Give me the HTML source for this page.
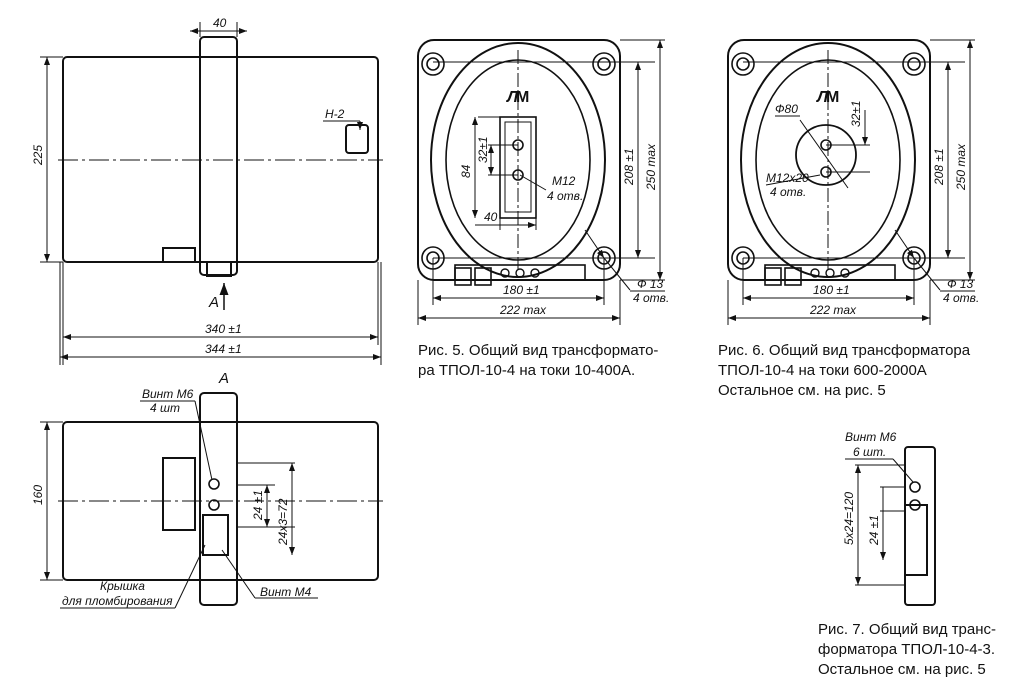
<!DOCTYPE html>
<html><head><meta charset="utf-8"><style>
body{margin:0;background:#fff;width:1027px;height:700px;overflow:hidden}
svg{display:block}
text{font-family:"Liberation Sans",sans-serif;fill:#111}
.i{font-style:italic;font-size:12px}
.c{font-size:15px}
</style></head><body>
<svg width="1027" height="700" viewBox="0 0 1027 700" fill="none" stroke="#111" stroke-width="1">
<defs><marker id="a" markerWidth="8" markerHeight="6" refX="8" refY="3" orient="auto-start-reverse"><path d="M0,0L8,3L0,6z" fill="#111" stroke="none"/></marker></defs>
<!-- top left view -->
<g stroke-width="2">
<rect x="63" y="57" width="315" height="205" rx="4"/>
<rect x="200" y="37" width="37" height="238" rx="4"/>
<rect x="163" y="248" width="32" height="14"/>
<rect x="346" y="125" width="22" height="28" rx="3"/>
<rect x="207" y="262" width="24" height="14"/>
</g>
<line x1="58" y1="160" x2="383" y2="160" stroke-dasharray="20,4,3,4"/>
<line x1="200" y1="37" x2="200" y2="22"/><line x1="237" y1="37" x2="237" y2="22"/>
<line x1="190" y1="31" x2="247" y2="31" marker-start="url(#a)" marker-end="url(#a)"/>
<text class="i" x="213" y="27" stroke="none">40</text>
<line x1="40" y1="57" x2="63" y2="57"/><line x1="40" y1="262" x2="63" y2="262"/>
<line x1="47" y1="57" x2="47" y2="262" marker-start="url(#a)" marker-end="url(#a)"/>
<text class="i" x="0" y="0" stroke="none" transform="translate(42,165) rotate(-90)">225</text>
<line x1="63" y1="262" x2="63" y2="365"/><line x1="378" y1="262" x2="378" y2="345"/><line x1="60" y1="262" x2="60" y2="365"/><line x1="381" y1="262" x2="381" y2="365"/>
<line x1="63" y1="337" x2="378" y2="337" marker-start="url(#a)" marker-end="url(#a)"/>
<text class="i" x="205" y="333" stroke="none">340 ±1</text>
<line x1="60" y1="357" x2="381" y2="357" marker-start="url(#a)" marker-end="url(#a)"/>
<text class="i" x="205" y="353" stroke="none">344 ±1</text>
<line x1="224" y1="310" x2="224" y2="283" marker-end="url(#a)" stroke-width="1.5"/>
<text class="c" x="209" y="307" font-style="italic" stroke="none">A</text>
<text class="i" x="325" y="118" stroke="none">H-2</text>
<line x1="323" y1="121" x2="360" y2="121"/><line x1="360" y1="121" x2="360" y2="130" marker-end="url(#a)"/>
<!-- bottom left -->
<g stroke-width="2">
<rect x="63" y="422" width="315" height="158" rx="4"/>
<rect x="200" y="393" width="37" height="212" rx="4"/>
<rect x="163" y="458" width="32" height="72"/>
<rect x="203" y="515" width="25" height="40"/>
</g>
<line x1="58" y1="501" x2="383" y2="501" stroke-dasharray="20,4,3,4"/>
<circle cx="214" cy="484" r="5" stroke-width="1.6"/><circle cx="214" cy="505" r="5" stroke-width="1.6"/>
<line x1="40" y1="422" x2="63" y2="422"/><line x1="40" y1="580" x2="63" y2="580"/>
<line x1="47" y1="422" x2="47" y2="580" marker-start="url(#a)" marker-end="url(#a)"/>
<text class="i" transform="translate(42,505) rotate(-90)" stroke="none">160</text>
<text class="c" x="219" y="383" font-style="italic" stroke="none">A</text>
<text class="i" x="142" y="398" stroke="none">Винт М6</text><text class="i" x="150" y="412" stroke="none">4 шт</text>
<line x1="140" y1="401" x2="195" y2="401"/><line x1="195" y1="401" x2="212" y2="480"/>
<line x1="237" y1="485" x2="275" y2="485"/><line x1="237" y1="527" x2="295" y2="527"/><line x1="237" y1="463" x2="295" y2="463"/>
<line x1="267" y1="485" x2="267" y2="527" marker-start="url(#a)" marker-end="url(#a)"/>
<line x1="292" y1="463" x2="292" y2="555" marker-start="url(#a)" marker-end="url(#a)"/>
<text class="i" transform="translate(262,520) rotate(-90)" stroke="none">24 ±1</text>
<text class="i" transform="translate(287,545) rotate(-90)" stroke="none">24x3=72</text>
<text class="i" x="100" y="590" stroke="none">Крышка</text><text class="i" x="62" y="605" stroke="none">для пломбирования</text>
<line x1="60" y1="608" x2="175" y2="608"/><line x1="175" y1="608" x2="205" y2="545"/>
<text class="i" x="260" y="596" stroke="none">Винт М4</text>
<line x1="255" y1="598" x2="318" y2="598"/><line x1="255" y1="598" x2="222" y2="550"/>
<!-- fig5 and fig6 -->
<g id="f">
<rect x="418" y="40" width="202" height="240" rx="16" stroke-width="2"/>
<ellipse cx="518" cy="160" rx="87" ry="117" stroke-width="2"/>
<ellipse cx="518" cy="160" rx="72" ry="100" stroke-width="1.6"/>
<g stroke-width="1.6"><circle cx="433" cy="64" r="11"/><circle cx="433" cy="64" r="6"/><circle cx="604" cy="64" r="11"/><circle cx="604" cy="64" r="6"/><circle cx="433" cy="258" r="11"/><circle cx="433" cy="258" r="6"/><circle cx="604" cy="258" r="11"/><circle cx="604" cy="258" r="6"/></g>
<rect x="455" y="265" width="130" height="15" stroke-width="1.6"/>
<rect x="455" y="268" width="16" height="17" stroke-width="1.6"/><rect x="475" y="268" width="16" height="17" stroke-width="1.6"/>
<circle cx="505" cy="273" r="4" stroke-width="1.4"/><circle cx="520" cy="273" r="4" stroke-width="1.4"/><circle cx="535" cy="273" r="4" stroke-width="1.4"/>
<line x1="433" y1="62" x2="655" y2="62"/><line x1="433" y1="258" x2="655" y2="258"/>
<line x1="638" y1="62" x2="638" y2="258" marker-start="url(#a)" marker-end="url(#a)"/>
<text class="i" transform="translate(633,185) rotate(-90)" stroke="none">208 ±1</text>
<line x1="620" y1="40" x2="665" y2="40"/><line x1="620" y1="280" x2="665" y2="280"/>
<line x1="660" y1="40" x2="660" y2="280" marker-start="url(#a)" marker-end="url(#a)"/>
<text class="i" transform="translate(655,190) rotate(-90)" stroke="none">250 max</text>
<line x1="433" y1="258" x2="433" y2="305"/><line x1="604" y1="258" x2="604" y2="305"/>
<line x1="433" y1="298" x2="604" y2="298" marker-start="url(#a)" marker-end="url(#a)"/>
<text class="i" x="503" y="294" stroke="none">180 ±1</text>
<line x1="418" y1="280" x2="418" y2="325"/><line x1="620" y1="280" x2="620" y2="325"/>
<line x1="418" y1="318" x2="620" y2="318" marker-start="url(#a)" marker-end="url(#a)"/>
<text class="i" x="500" y="314" stroke="none">222 max</text>
<line x1="518" y1="50" x2="518" y2="270" stroke-dasharray="14,3,3,3"/>
<line x1="585" y1="230" x2="604" y2="258" marker-end="url(#a)"/>
<line x1="604" y1="258" x2="630" y2="290"/>
<text class="i" x="637" y="288" stroke="none">Ф 13</text><text class="i" x="633" y="302" stroke="none">4 отв.</text>
<line x1="630" y1="291" x2="665" y2="291"/>
<text x="507" y="102" font-size="16" font-weight="bold" font-style="italic" stroke="none">Л</text><text x="516" y="102" font-size="16" font-weight="bold" stroke="none">M</text>
</g>
<use href="#f" transform="translate(310,0)"/>
<rect x="500" y="117" width="36" height="101" stroke-width="1.6"/><rect x="505" y="122" width="26" height="90"/>
<circle cx="518" cy="145" r="5" stroke-width="1.6"/><circle cx="518" cy="175" r="5" stroke-width="1.6"/>
<line x1="488" y1="145" x2="518" y2="145"/><line x1="488" y1="175" x2="518" y2="175"/>
<line x1="491" y1="145" x2="491" y2="175" marker-start="url(#a)" marker-end="url(#a)"/>
<text class="i" transform="translate(487,163) rotate(-90)" stroke="none">32±1</text>
<line x1="478" y1="117" x2="500" y2="117"/><line x1="475" y1="117" x2="475" y2="218" marker-start="url(#a)" marker-end="url(#a)"/>
<text class="i" transform="translate(470,178) rotate(-90)" stroke="none">84</text>
<line x1="500" y1="218" x2="500" y2="230"/><line x1="536" y1="218" x2="536" y2="230"/>
<line x1="475" y1="225" x2="536" y2="225" marker-end="url(#a)"/>
<text class="i" x="484" y="221" stroke="none">40</text>
<text class="i" x="552" y="185" stroke="none">M12</text><text class="i" x="547" y="200" stroke="none">4 отв.</text>
<line x1="520" y1="175" x2="546" y2="190"/>
<circle cx="826" cy="155" r="30" stroke-width="1.8"/>
<circle cx="826" cy="145" r="5" stroke-width="1.6"/><circle cx="826" cy="172" r="5" stroke-width="1.6"/>
<line x1="800" y1="120" x2="848" y2="188"/>
<text class="i" x="775" y="113" stroke="none">Ф80</text><line x1="775" y1="116" x2="800" y2="116"/>
<text class="i" x="766" y="182" stroke="none">M12x20</text><text class="i" x="770" y="196" stroke="none">4 отв.</text>
<line x1="766" y1="185" x2="820" y2="175"/>
<line x1="826" y1="145" x2="870" y2="145"/><line x1="826" y1="172" x2="870" y2="172"/>
<line x1="865" y1="110" x2="865" y2="145" marker-end="url(#a)"/>
<text class="i" transform="translate(860,127) rotate(-90)" stroke="none">32±1</text>
<!-- fig7 -->
<g stroke-width="2"><rect x="905" y="447" width="30" height="158" rx="3"/><rect x="905" y="505" width="22" height="70"/></g>
<circle cx="915" cy="487" r="5" stroke-width="1.6"/><circle cx="915" cy="505" r="5" stroke-width="1.6"/>
<text class="i" x="845" y="441" stroke="none">Винт М6</text><text class="i" x="853" y="456" stroke="none">6 шт.</text>
<line x1="845" y1="459" x2="893" y2="459"/><line x1="893" y1="459" x2="913" y2="482"/>
<line x1="855" y1="465" x2="905" y2="465"/><line x1="855" y1="585" x2="905" y2="585"/>
<line x1="858" y1="465" x2="858" y2="585" marker-start="url(#a)" marker-end="url(#a)"/>
<text class="i" transform="translate(853,545) rotate(-90)" stroke="none">5x24=120</text>
<line x1="880" y1="487" x2="905" y2="487"/><line x1="880" y1="511" x2="905" y2="511"/>
<line x1="883" y1="487" x2="883" y2="560" marker-end="url(#a)"/>
<text class="i" transform="translate(878,545) rotate(-90)" stroke="none">24 ±1</text>
<text class="c" x="418" y="355" stroke="none">Рис. 5.  Общий вид трансформато-</text>
<text class="c" x="418" y="375" stroke="none">ра ТПОЛ-10-4 на токи 10-400А.</text>
<text class="c" x="718" y="355" stroke="none">Рис. 6.  Общий вид трансформатора</text>
<text class="c" x="718" y="375" stroke="none">ТПОЛ-10-4 на токи 600-2000А</text>
<text class="c" x="718" y="395" stroke="none">Остальное см. на рис. 5</text>
<text class="c" x="818" y="634" stroke="none">Рис. 7.  Общий вид транс-</text>
<text class="c" x="818" y="654" stroke="none">форматора ТПОЛ-10-4-3.</text>
<text class="c" x="818" y="674" stroke="none">Остальное см. на рис. 5</text>
</svg>
</body></html>
